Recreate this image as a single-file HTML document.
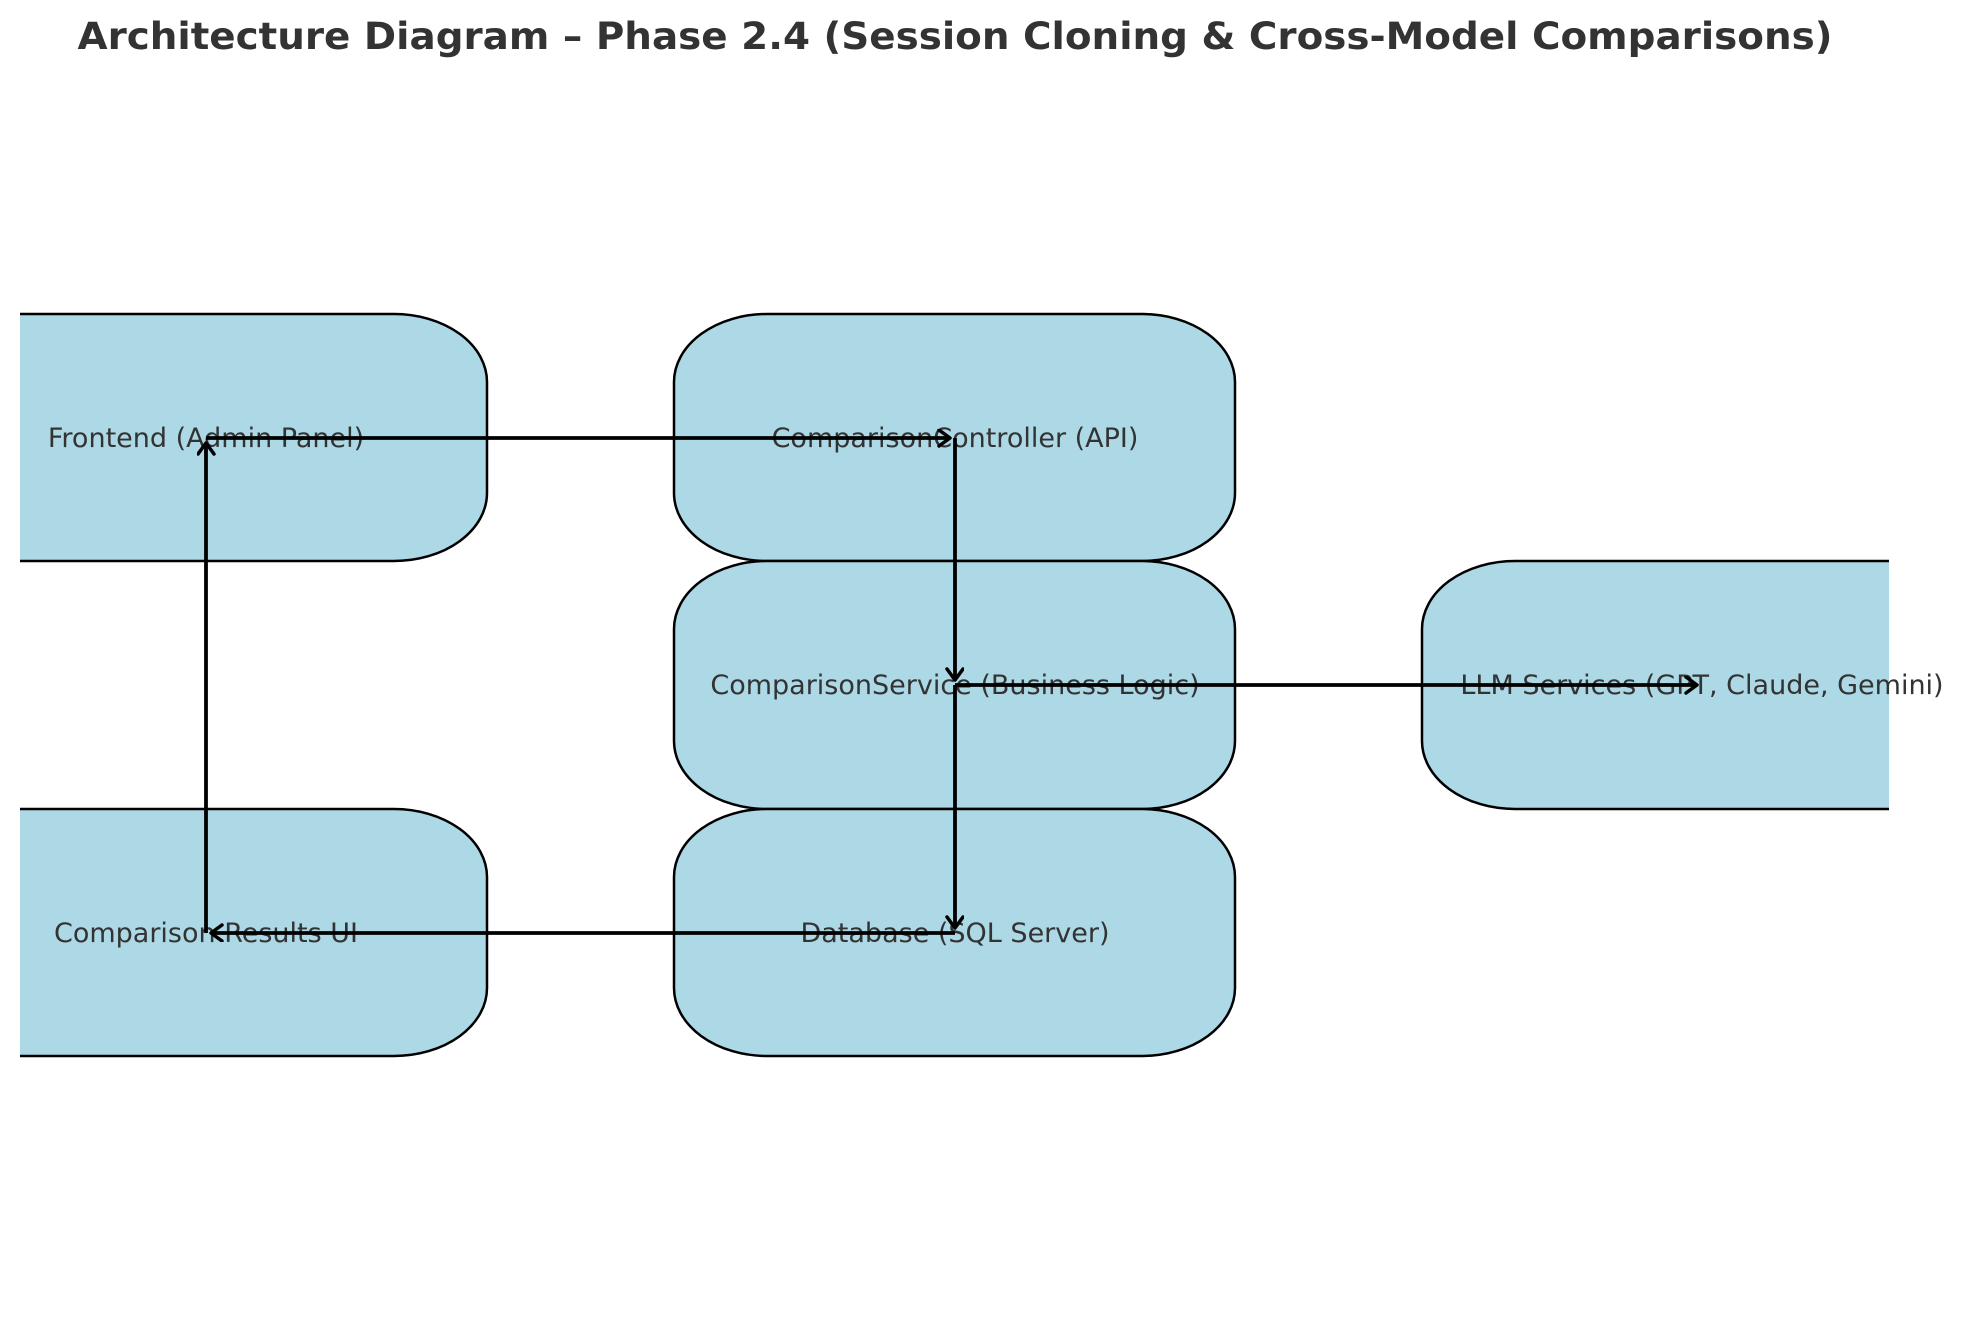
<!DOCTYPE html>
<html><head><meta charset="utf-8"><style>html,body{margin:0;padding:0;background:#fff}svg{display:block}</style></head>
<body>
<svg width="1962" height="1318" viewBox="0 0 1962 1318" xmlns="http://www.w3.org/2000/svg">
<defs>
<clipPath id="ax"><rect x="20" y="0" width="1869" height="1318"/></clipPath>
<marker id="ah" markerWidth="24" markerHeight="24" refX="13" refY="9" orient="auto" markerUnits="userSpaceOnUse">
<path d="M2,1 L13,9 L2,17" fill="none" stroke="#000" stroke-width="3.5" stroke-linecap="round" stroke-linejoin="round"/>
</marker>
</defs>
<text x="955" y="49" text-anchor="middle" font-family="DejaVu Sans, Liberation Sans, sans-serif" font-weight="bold" font-size="37" fill="#333" textLength="1755" lengthAdjust="spacingAndGlyphs">Architecture Diagram – Phase 2.4 (Session Cloning &amp; Cross-Model Comparisons)</text>
<g clip-path="url(#ax)" fill="#add8e6" stroke="#000" stroke-width="2.5">
<rect x="-150" y="314" width="637" height="247" rx="93" ry="68"/>
<rect x="674" y="314" width="561" height="247" rx="93" ry="68"/>
<rect x="674" y="561" width="561" height="248" rx="93" ry="68"/>
<rect x="674" y="809" width="561" height="247" rx="93" ry="68"/>
<rect x="-150" y="809" width="637" height="247" rx="93" ry="68"/>
<rect x="1422" y="561" width="600" height="248" rx="93" ry="68"/>
</g>
<g font-family="DejaVu Sans, Liberation Sans, sans-serif" font-size="27" fill="#333" text-anchor="middle">
<text x="206" y="447">Frontend (Admin Panel)</text>
<text x="955" y="447">ComparisonController (API)</text>
<text x="955" y="694">ComparisonService (Business Logic)</text>
<text x="1702" y="694">LLM Services (GPT, Claude, Gemini)</text>
<text x="955" y="942">Database (SQL Server)</text>
<text x="206" y="942">Comparison Results UI</text>
</g>
<g stroke="#000" stroke-width="3.8" fill="none" marker-end="url(#ah)">
<line x1="206" y1="438" x2="950" y2="438"/>
<line x1="955" y1="438" x2="955" y2="680"/>
<line x1="955" y1="685" x2="1697" y2="685"/>
<line x1="955" y1="685" x2="955" y2="928"/>
<line x1="955" y1="933" x2="211" y2="933"/>
<line x1="206" y1="933" x2="206" y2="443"/>
</g>
</svg>
</body></html>
